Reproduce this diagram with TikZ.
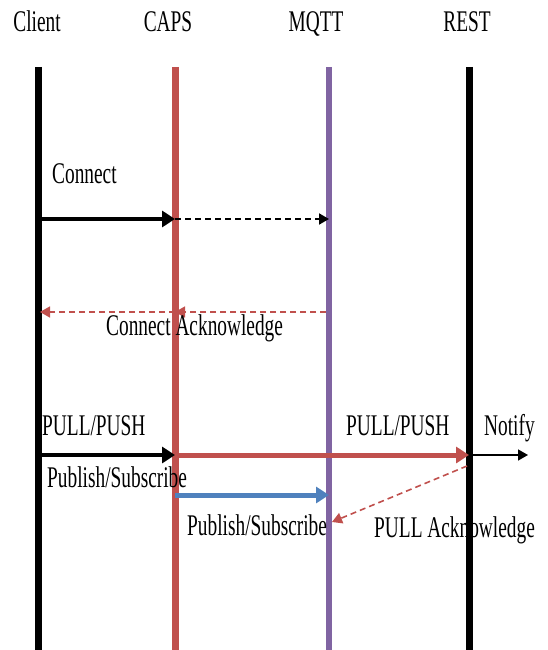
\documentclass[tikz,border=0pt]{standalone}
\usepackage{fontspec}
\setmainfont{Liberation Serif}[FakeStretch=0.645]
\usetikzlibrary{arrows.meta}
\definecolor{capsred}{HTML}{C0504D}
\definecolor{mqttpurple}{HTML}{8064A2}
\definecolor{pubblue}{HTML}{4F81BD}
\begin{document}
\begin{tikzpicture}[x=1pt,y=-1pt,
  lbl/.style={font=\fontsize{30}{30}\selectfont, inner sep=0pt, anchor=base west},
  title/.style={font=\fontsize{30}{30}\selectfont, inner sep=0pt, anchor=base},
  lifeline/.style={line width=7pt},
  bigarrow/.style={line width=4pt, -{Triangle[length=13pt,width=16pt]}},
  thinarrow/.style={line width=1.6pt, -{Triangle[length=10pt,width=11pt]}},
  dasharrow/.style={line width=1.6pt, dash pattern=on 6pt off 4pt, -{Triangle[length=10pt,width=11pt]}},
]
\useasboundingbox (0,0) rectangle (547,650);
% titles
\node[title] (tclient) at (37,32) {Client};
\node[title] (tcaps) at (168,32) {CAPS};
\node[title] (tmqtt) at (316,32) {MQTT};
\node[title] (trest) at (467,32) {REST};
% lifelines
\coordinate (cl0) at (38,67);  \coordinate (cl1) at (38,650);
\coordinate (ca0) at (175,67); \coordinate (ca1) at (175,650);
\coordinate (mq0) at (329,67); \coordinate (mq1) at (329,650);
\coordinate (re0) at (469,67); \coordinate (re1) at (469,650);
\draw[lifeline] (cl0) -- (cl1);
\draw[lifeline, capsred] (ca0) -- (ca1);
\draw[lifeline, mqttpurple, line width=6pt] (mq0) -- (mq1);
\draw[lifeline] (re0) -- (re1);
% connect
\coordinate (cA) at (41,219); \coordinate (caA) at (175,219); \coordinate (mqA) at (329,219);
\node[lbl] (connect) at (52,183) {Connect};
\draw[bigarrow] (cA) -- (caA);
\draw[dasharrow, line width=2pt] (caA) -- (mqA);
% connect acknowledge
\coordinate (mqB) at (326,312); \coordinate (caB) at (175,312); \coordinate (clB) at (40,312);
\draw[dasharrow, capsred] (mqB) -- (caB);
\draw[dasharrow, capsred] (caB) -- (clB);
\node[lbl] (connack) at (106,335) {Connect Acknowledge};
% pull/push
\node[lbl] (pp1) at (42,435) {PULL/PUSH};
\node[lbl] (pp2) at (346,435) {PULL/PUSH};
\node[lbl] (notify) at (484,435) {Notify};
\coordinate (clC) at (41,455); \coordinate (caC) at (175,455); \coordinate (reC) at (469,455); \coordinate (nt) at (528,455);
\draw[bigarrow, capsred, line width=5pt] (caC) -- (reC);
\draw[bigarrow] (clC) -- (caC);
\draw[thinarrow] (reC) -- (nt);
\node[lbl] (ps1) at (47,487) {Publish/Subscribe};
% publish/subscribe blue
\coordinate (caD) at (175,495); \coordinate (mqD) at (329,495);
\draw[bigarrow, pubblue, line width=5pt] (caD) -- (mqD);
\node[lbl] (ps2) at (187,535) {Publish/Subscribe};
% pull acknowledge
\coordinate (reE) at (467,466); \coordinate (mqE) at (332,522);
\draw[dasharrow, capsred] (reE) -- (mqE);
\node[lbl] (pullack) at (374,537) {PULL Acknowledge};
\end{tikzpicture}
\end{document}
